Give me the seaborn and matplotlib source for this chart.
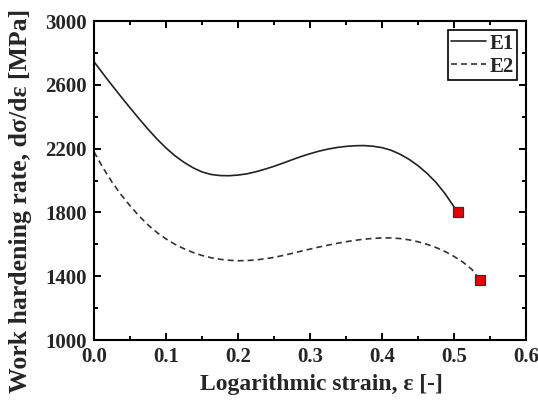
import numpy as np
import pandas as pd
import seaborn as sns
import matplotlib
matplotlib.use("Agg")
import matplotlib.pyplot as plt
from matplotlib.ticker import MultipleLocator, FixedLocator, FormatStrFormatter

# Work hardening rate curves (strain, dσ/dε in MPa)
strain_e1 = [0.0, 0.0125, 0.025, 0.0375, 0.05, 0.0625, 0.075, 0.0875, 0.1,
             0.1125, 0.125, 0.1375, 0.15, 0.1625, 0.175, 0.1875, 0.2,
             0.2125, 0.225, 0.2375, 0.25, 0.2625, 0.275, 0.2875, 0.3,
             0.3125, 0.325, 0.3375, 0.35, 0.3625, 0.375, 0.3875, 0.4,
             0.4125, 0.425, 0.4375, 0.45, 0.4625, 0.475, 0.4875, 0.5, 0.505]
rate_e1 = [2745, 2670, 2597, 2526, 2456, 2388, 2322, 2260, 2204,
           2155, 2114, 2080, 2054, 2038, 2031, 2030, 2034,
           2042, 2055, 2071, 2089, 2109, 2130, 2150, 2168,
           2184, 2197, 2207, 2214, 2218, 2219, 2215, 2206,
           2190, 2165, 2133, 2093, 2045, 1988, 1918, 1835, 1800]

strain_e2 = [0.0, 0.0125, 0.025, 0.0375, 0.05, 0.0625, 0.075, 0.0875, 0.1,
             0.1125, 0.125, 0.1375, 0.15, 0.1625, 0.175, 0.1875, 0.2,
             0.2125, 0.225, 0.2375, 0.25, 0.2625, 0.275, 0.2875, 0.3,
             0.3125, 0.325, 0.3375, 0.35, 0.3625, 0.375, 0.3875, 0.4,
             0.4125, 0.425, 0.4375, 0.45, 0.4625, 0.475, 0.4875, 0.5,
             0.5125, 0.525, 0.536]
rate_e2 = [2180, 2080, 1990, 1912, 1842, 1778, 1722, 1674, 1634,
           1600, 1572, 1549, 1530, 1516, 1506, 1500, 1497,
           1498, 1502, 1509, 1518, 1530, 1543, 1557, 1570,
           1583, 1595, 1606, 1616, 1625, 1632, 1637, 1640,
           1640, 1636, 1628, 1616, 1600, 1580, 1555, 1524,
           1488, 1442, 1378]

series_names = ["E1", "E2"]
y_ticks = [1000, 1400, 1800, 2200, 2600, 3000]

sns.set_theme(style="ticks")
plt.rcParams["font.family"] = ["Liberation Serif", "DejaVu Serif"]
plt.rcParams["font.weight"] = "bold"
plt.rcParams["axes.labelweight"] = "bold"

df = pd.concat([
    pd.DataFrame({"strain": strain_e1, "rate": rate_e1, "series": series_names[0]}),
    pd.DataFrame({"strain": strain_e2, "rate": rate_e2, "series": series_names[1]}),
])

fig = plt.figure(figsize=(5.38, 4.04), dpi=100)
ax = fig.add_axes([0.1747, 0.1584, 0.803, 0.7896])

sns.lineplot(data=df, x="strain", y="rate", hue="series", style="series",
             palette={"E1": "#222222", "E2": "#333333"},
             dashes={"E1": "", "E2": (3.6, 2.4)},
             sort=False, estimator=None, linewidth=1.2, ax=ax)

# final points of each curve
ends = df.groupby("series", sort=False).tail(1)
sns.scatterplot(data=ends, x="strain", y="rate", marker="s", s=55,
                color="#ee0000", edgecolor="#333333", linewidth=0.9,
                zorder=5, legend=False, ax=ax)

ax.set_xlim(0.0, 0.6)
ax.set_ylim(1000, 3000)
ax.xaxis.set_major_locator(MultipleLocator(0.1))
ax.xaxis.set_minor_locator(MultipleLocator(0.05))
ax.yaxis.set_major_locator(FixedLocator(y_ticks))
ax.yaxis.set_minor_locator(MultipleLocator(200))
ax.xaxis.set_major_formatter(FormatStrFormatter("%.1f"))

for side in ["left", "right", "top", "bottom"]:
    ax.spines[side].set_visible(True)
    ax.spines[side].set_linewidth(1.5)
    ax.spines[side].set_color("black")

ax.tick_params(which="both", direction="in", top=True, right=True,
               color="black", width=1.4, labelsize=15, pad=5)
ax.tick_params(which="major", length=5)
ax.tick_params(which="minor", length=3)
for lbl in ax.get_xticklabels() + ax.get_yticklabels():
    lbl.set_fontweight("bold")

ax.set_xlabel("Logarithmic strain, ε [-]", fontsize=17, fontweight="bold")
ax.set_ylabel("Work hardening rate, dσ/dε [MPa]", fontsize=18.5, fontweight="bold")
ax.xaxis.set_label_coords(0.526, -0.105)
ax.yaxis.set_label_coords(-0.144, 0.435)

leg = ax.legend(loc="upper right", frameon=True, fancybox=False, framealpha=1,
                edgecolor="black", handlelength=1.7,
                borderpad=0.15, labelspacing=0.15, handletextpad=0.15,
                borderaxespad=0.45, prop={"weight": "bold", "size": 15})
leg.get_frame().set_linewidth(1.2)

fig.savefig("out.png", dpi=100)
